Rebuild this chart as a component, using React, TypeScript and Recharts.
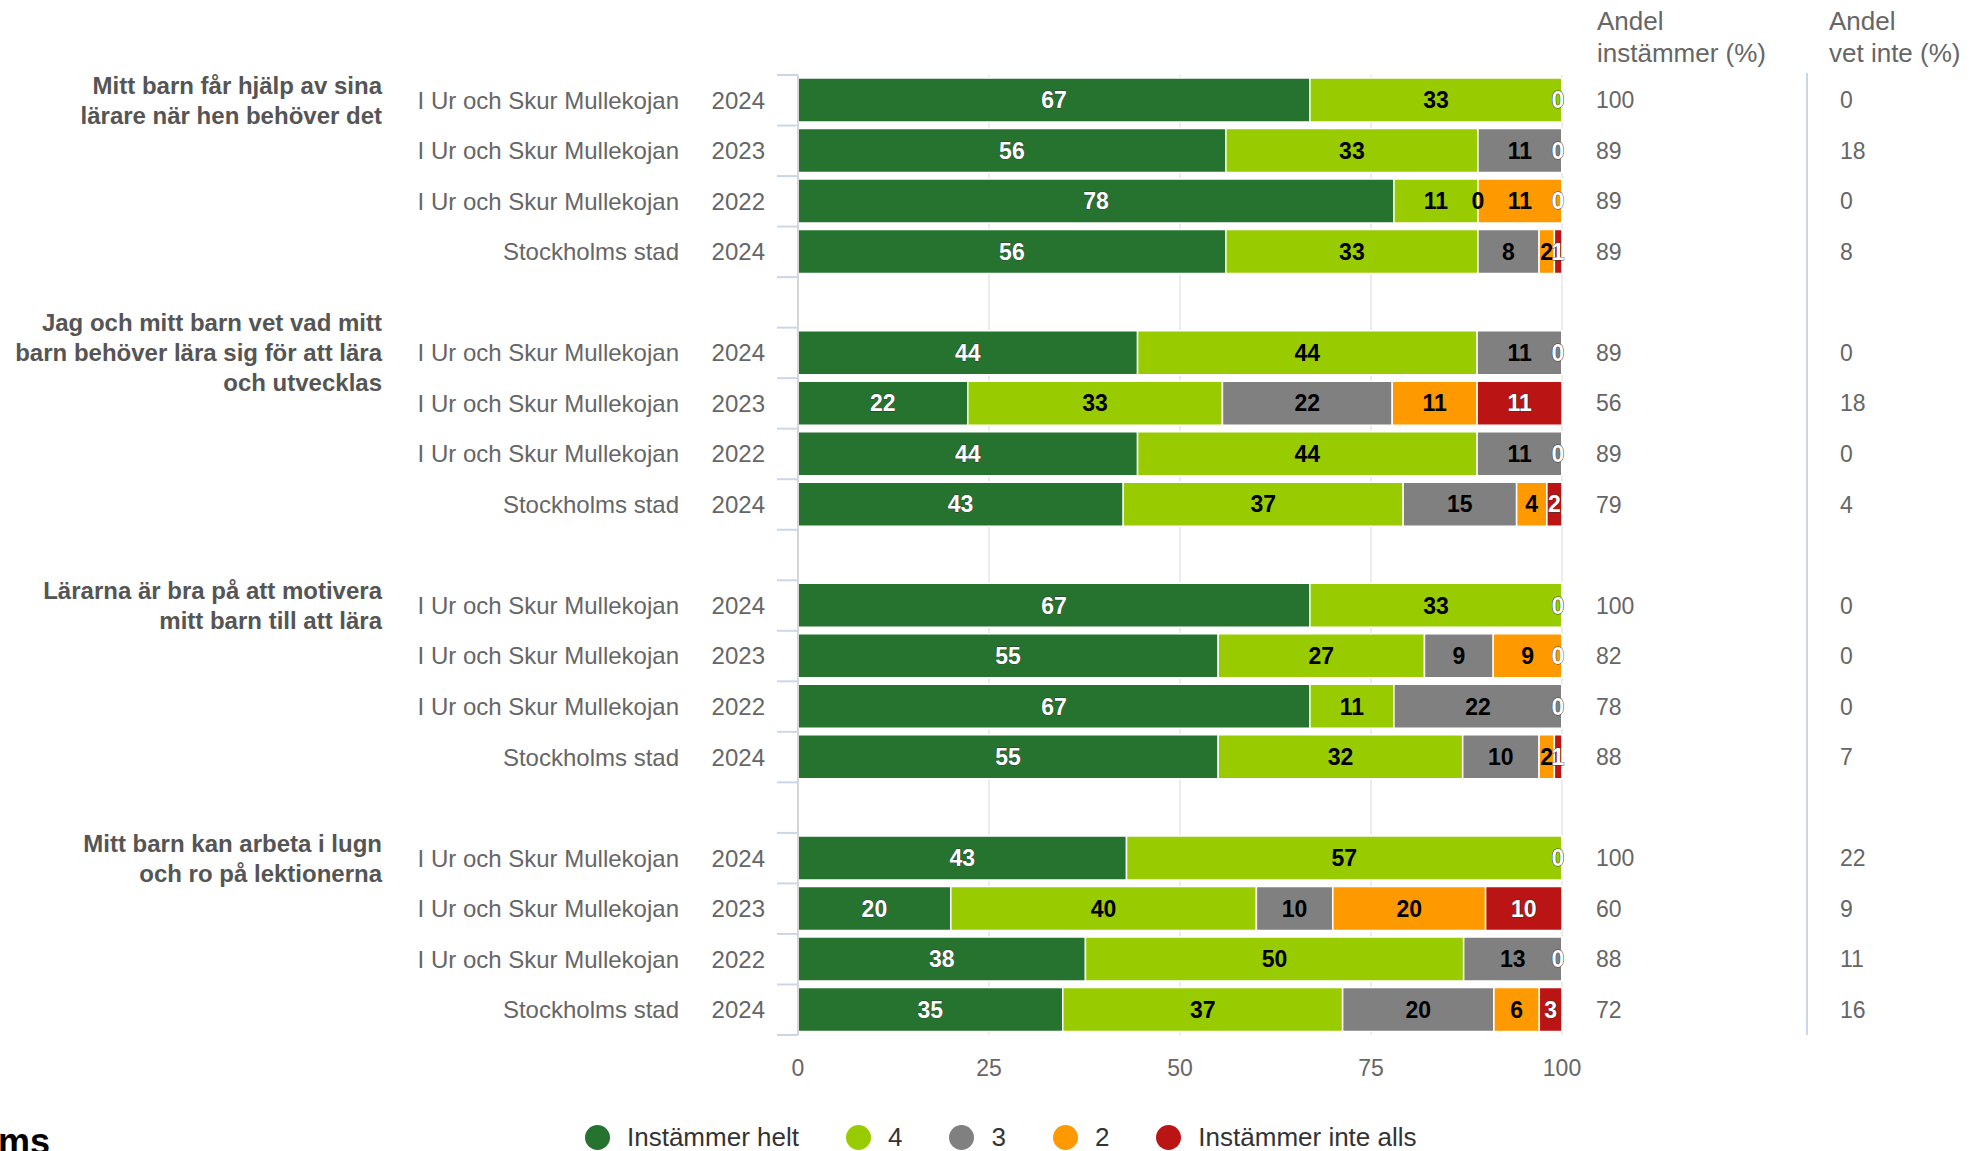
import React from 'react'
import { BarChart, Bar, XAxis, YAxis, CartesianGrid, Legend, LabelList } from 'recharts'

const FONT = '"Liberation Sans", Arial, Helvetica, sans-serif'

// questions (one per group of four rows)
const questions = [
  ['Mitt barn får hjälp av sina', 'lärare när hen behöver det'],
  ['Jag och mitt barn vet vad mitt', 'barn behöver lära sig för att lära', 'och utvecklas'],
  ['Lärarna är bra på att motivera', 'mitt barn till att lära'],
  ['Mitt barn kan arbeta i lugn', 'och ro på lektionerna'],
]
const units = ['I Ur och Skur Mullekojan', 'I Ur och Skur Mullekojan', 'I Ur och Skur Mullekojan', 'Stockholms stad']
const years = ['2024', '2023', '2022', '2024']

// answer shares (%), 16 rows = 4 questions x 4 rows
const helt = [67, 56, 78, 56, 44, 22, 44, 43, 67, 55, 67, 55, 43, 20, 38, 35]
const fyra = [33, 33, 11, 33, 44, 33, 44, 37, 33, 27, 11, 32, 57, 40, 50, 37]
const tre = [0, 11, 0, 8, 11, 22, 11, 15, 0, 9, 22, 10, 0, 10, 13, 20]
const tva = [0, 0, 11, 2, 0, 11, 0, 4, 0, 9, 0, 2, 0, 20, 0, 6]
const inteAlls = [0, 0, 0, 1, 0, 11, 0, 2, 0, 0, 0, 1, 0, 10, 0, 3]

const andelInstammer = [100, 89, 89, 89, 89, 56, 89, 79, 100, 82, 78, 88, 100, 60, 88, 72]
const andelVetInte = [0, 18, 0, 8, 0, 18, 0, 4, 0, 0, 0, 7, 22, 9, 11, 16]

const seriesNames = ['Instämmer helt', '4', '3', '2', 'Instämmer inte alls']
const seriesColors = ['#267330', '#99cc00', '#808080', '#ff9900', '#bb1414']
const labelColors = ['#fff', '#000', '#000', '#000', '#fff']
const xTicks = [0, 0.25, 0.5, 0.75, 1]

// layout
const W = 1970
const H = 1151
const PLOT_LEFT = 798
const PLOT_RIGHT = 1562
const PLOT_TOP = 75
const PLOT_BOTTOM = 1035

// zero shares get a hair-thin segment so their "0" label is still placed by the stack
const EPS = 1e-6
const seg = (v: number) => (v === 0 ? EPS : v)

// rows with an empty spacer row between question groups
type Row = { id: string; src: number; helt: number; fyra: number; tre: number; tva: number; inteAlls: number }
const table: Row[] = []
questions.forEach((_, g) => {
  for (let k = 0; k < 4; k++) {
    const i = g * 4 + k
    table.push({
      id: 'r' + i, src: i,
      helt: seg(helt[i]), fyra: seg(fyra[i]), tre: seg(tre[i]), tva: seg(tva[i]), inteAlls: seg(inteAlls[i]),
    })
  }
  if (g < questions.length - 1) {
    table.push({ id: 'gap' + g, src: -1, helt: 0, fyra: 0, tre: 0, tva: 0, inteAlls: 0 })
  }
})
const BAND = (PLOT_BOTTOM - PLOT_TOP) / table.length

const seriesValues = [helt, fyra, tre, tva, inteAlls]
const seriesKeys = ['helt', 'fyra', 'tre', 'tva', 'inteAlls']

const makeLabel = (values: number[], color: string) => (props: any) => {
  const vb = props.viewBox ?? props
  const { x, y, width, height } = vb
  if (x == null || y == null) return null
  const idx = Math.floor((y + height / 2 - PLOT_TOP) / BAND)
  const row = table[idx]
  if (!row || row.src < 0) return null
  const v = values[row.src]
  let cx = x + width / 2
  if (cx > PLOT_RIGHT - 4) cx = PLOT_RIGHT - 4
  return (
    <text x={cx} y={y + height / 2} dy="0.36em" textAnchor="middle" fontFamily={FONT}
      fontSize={23} fontWeight="bold" fill={color}
      stroke={color === '#fff' ? '#333' : 'none'} strokeWidth={color === '#fff' ? 0.8 : 0}
      paintOrder="stroke">
      {v}
    </text>
  )
}

function LeftTick(props: any) {
  const { y, index } = props
  const row = table[index]
  const top = y - BAND / 2
  const k = row && row.src >= 0 ? row.src % 4 : -1
  const q = row && row.src >= 0 ? questions[Math.floor(row.src / 4)] : null
  return (
    <g>
      <line x1={PLOT_LEFT - 21} x2={PLOT_LEFT} y1={top} y2={top} stroke="#ccd6eb" strokeWidth={2} />
      {index === table.length - 1 && (
        <line x1={PLOT_LEFT - 21} x2={PLOT_LEFT} y1={top + BAND} y2={top + BAND} stroke="#ccd6eb" strokeWidth={2} />
      )}
      {k >= 0 && (
        <>
          <text x={679} y={y} dy="0.35em" textAnchor="end" fontFamily={FONT} fontSize={24} fill="#666">{units[k]}</text>
          <text x={765} y={y} dy="0.35em" textAnchor="end" fontFamily={FONT} fontSize={24} fill="#666">{years[k]}</text>
        </>
      )}
      {k === 0 && q && q.map((line, j) => (
        <text key={j} x={382} y={y + (j - (q.length - 1) / 2) * 30} dy="0.35em" textAnchor="end"
          fontFamily={FONT} fontSize={24} fontWeight="bold" fill="#555">{line}</text>
      ))}
    </g>
  )
}

function RightTick(props: any) {
  const { y, index } = props
  const row = table[index]
  const head = { fontFamily: FONT, fontSize: 26, fill: '#666' }
  return (
    <g>
      {index === 0 && (
        <>
          <text x={1597} y={30} {...head}>Andel</text>
          <text x={1597} y={62} {...head}>instämmer (%)</text>
          <text x={1829} y={30} {...head}>Andel</text>
          <text x={1829} y={62} {...head}>vet inte (%)</text>
          <line x1={1807} x2={1807} y1={PLOT_TOP - 2} y2={PLOT_BOTTOM} stroke="#ccd6eb" strokeWidth={2} />
        </>
      )}
      {row && row.src >= 0 && (
        <>
          <text x={1596} y={y} dy="0.35em" fontFamily={FONT} fontSize={23} fill="#666">{andelInstammer[row.src]}</text>
          <text x={1840} y={y} dy="0.35em" fontFamily={FONT} fontSize={23} fill="#666">{andelVetInte[row.src]}</text>
        </>
      )}
    </g>
  )
}

const renderLegend = () => (
  <div style={{ display: 'flex', alignItems: 'center', paddingLeft: 585, height: 30, fontFamily: FONT, fontSize: 26, color: '#333' }}>
    {seriesNames.map((n, i) => (
      <div key={n} style={{ display: 'flex', alignItems: 'center', marginRight: 47 }}>
        <svg width={25} height={25}><circle cx={12.5} cy={12.5} r={12.5} fill={seriesColors[i]} /></svg>
        <span style={{ marginLeft: 17 }}>{n}</span>
      </div>
    ))}
  </div>
)

export default function App() {
  return (
    <div style={{ position: 'absolute', left: 0, top: 0, width: W, height: H, overflow: 'hidden', background: '#fff' }}>
      <BarChart layout="vertical" width={W} height={H} data={table} stackOffset="expand"
        margin={{ top: PLOT_TOP, right: 0, bottom: H - PLOT_BOTTOM - 60, left: 0 }}>
        <CartesianGrid horizontal={false} stroke="#e6e6e6" strokeWidth={1.5} yAxisId="left" />
        <XAxis type="number" domain={[0, 1]} ticks={xTicks} tickFormatter={(v) => String(Math.round(v * 100))}
          axisLine={false} tickLine={false} tickSize={0} tickMargin={25} height={60}
          tick={{ fill: '#666', fontSize: 23, fontFamily: FONT }} />
        <YAxis yAxisId="left" type="category" dataKey="id" width={PLOT_LEFT} interval={0}
          tickSize={0} tickMargin={0} tickLine={false} axisLine={{ stroke: '#d6d6d6', strokeWidth: 2 }}
          tick={(p: any) => <LeftTick {...p} />} />
        <YAxis yAxisId="right" orientation="right" type="category" dataKey="id" width={W - PLOT_RIGHT} interval={0}
          tickSize={0} tickMargin={0} tickLine={false} axisLine={false}
          tick={(p: any) => <RightTick {...p} />} />
        <Legend layout="horizontal" verticalAlign="middle" align="center" content={renderLegend}
          wrapperStyle={{ top: 1122, left: 0, width: W, height: 30 }} />
        {seriesKeys.map((key, i) => (
          <Bar key={key} dataKey={key} name={seriesNames[i]} stackId="a" yAxisId="left" fill={seriesColors[i]}
            stroke="#fff" strokeWidth={1.5} barSize={44} isAnimationActive={false}>
            <LabelList content={makeLabel(seriesValues[i], labelColors[i])} />
          </Bar>
        ))}
      </BarChart>
      <div style={{ position: 'absolute', left: -2, top: 1124, fontFamily: FONT, fontSize: 36, fontWeight: 'bold', lineHeight: '36px', color: '#000' }}>
        ms
      </div>
    </div>
  )
}
